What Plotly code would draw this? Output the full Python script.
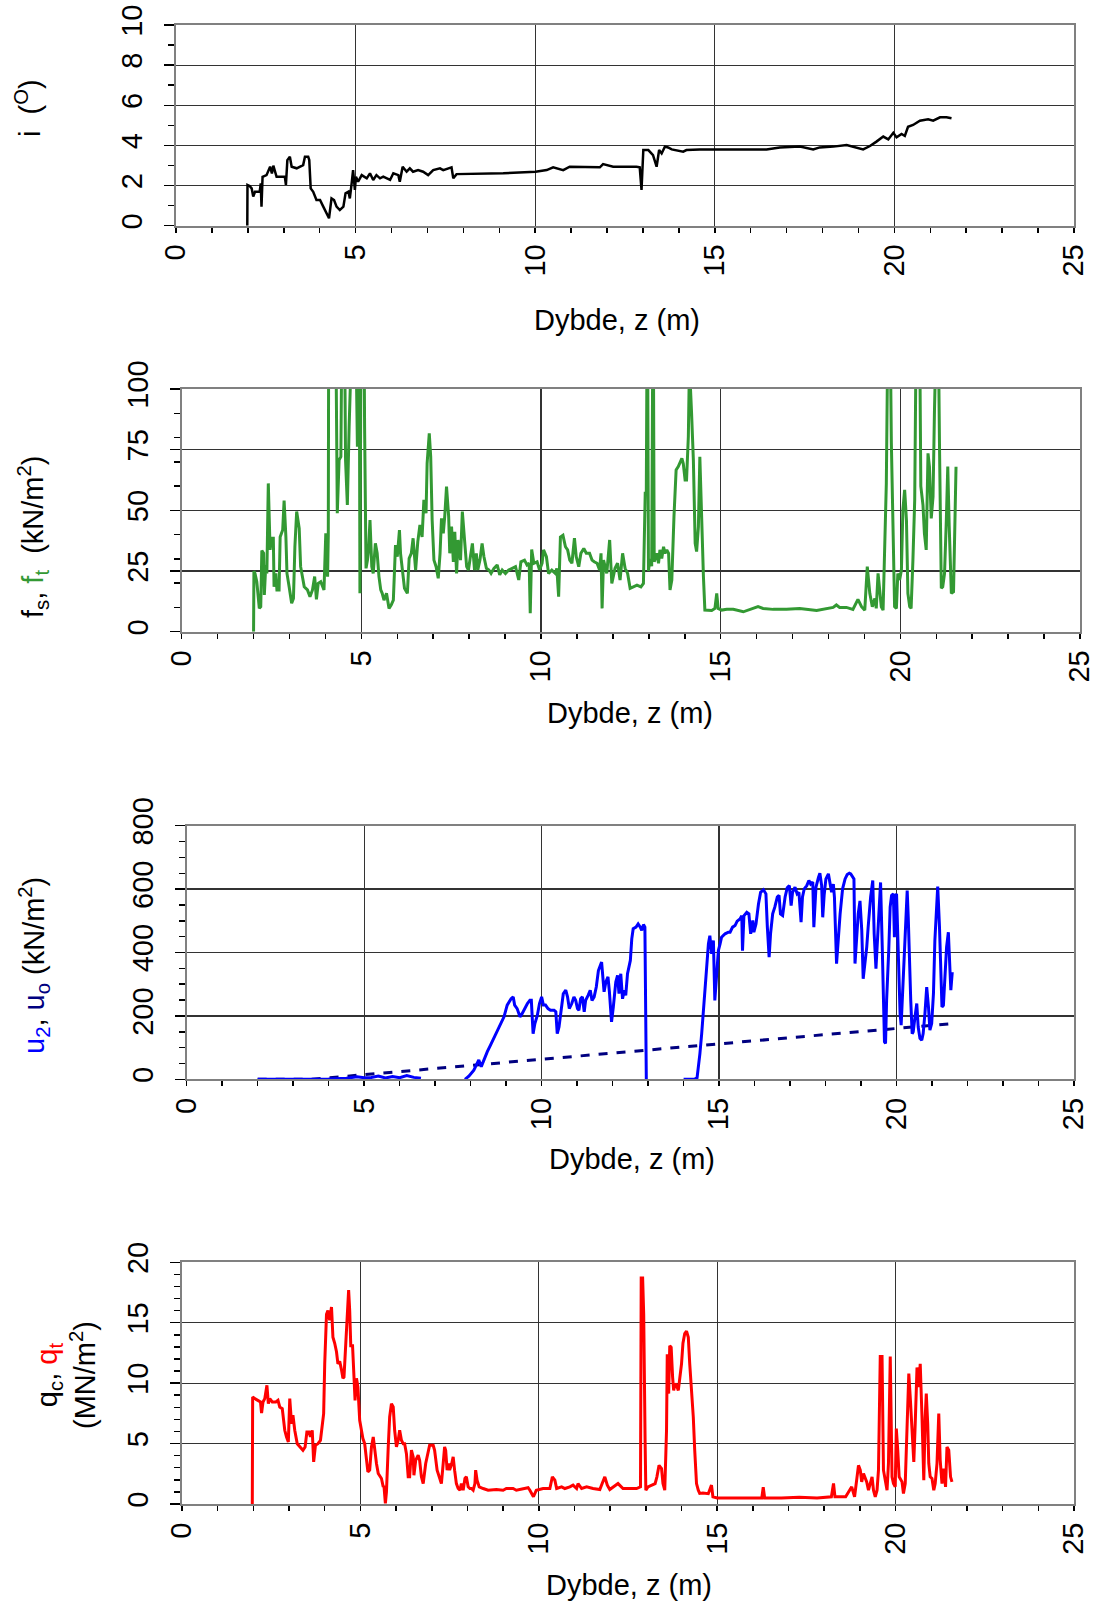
import plotly.graph_objects as go

W, H = 1093, 1602

# ---------------- data ----------------
depth_i = [1.985, 1.99, 2.05, 2.106, 2.15, 2.20, 2.26, 2.33, 2.36, 2.38, 2.41, 2.52, 2.62, 2.67, 2.71, 2.80,
           3.03, 3.06, 3.10, 3.17, 3.22, 3.36, 3.54, 3.59, 3.68, 3.71, 3.75, 3.82, 3.91, 4.01, 4.10, 4.19,
           4.26, 4.33, 4.40, 4.47, 4.56, 4.66, 4.72, 4.80, 4.84, 4.89, 4.93, 4.98, 5.01, 5.07, 5.17, 5.31,
           5.40, 5.49, 5.58, 5.68, 5.77, 5.96, 6.05, 6.19, 6.23, 6.31, 6.42, 6.51, 6.60, 6.74, 6.88, 7.02,
           7.16, 7.35, 7.44, 7.67, 7.72, 7.81, 8.5, 9.11, 10.01, 10.32, 10.50, 10.78, 10.96, 11.34, 11.80,
           11.89, 12.17, 12.82, 12.91, 12.96, 13.01, 13.15, 13.28, 13.38, 13.45, 13.52, 13.61, 13.70, 13.80,
           14.12, 14.21, 14.58, 16.44, 16.81, 17.37, 17.74, 17.92, 18.30, 18.67, 19.13, 19.32, 19.50, 19.69,
           19.83, 19.97, 20.06, 20.20, 20.29, 20.38, 20.52, 20.71, 20.94, 21.08, 21.27, 21.45, 21.59]
incl = [0.0, 2.03, 1.98, 1.86, 1.45, 1.69, 1.69, 1.69, 2.11, 0.95, 2.44, 2.52, 2.94, 2.6, 2.99, 2.44,
        2.44, 2.03, 3.27, 3.44, 2.94, 2.86, 3.02, 3.44, 3.44, 3.27, 1.86, 1.69, 1.28, 1.28, 0.95, 0.61,
        0.37, 1.36, 1.28, 0.95, 0.78, 0.95, 1.61, 1.69, 1.36, 2.11, 2.77, 1.78, 2.44, 2.19, 2.52, 2.36,
        2.61, 2.28, 2.52, 2.36, 2.44, 2.28, 2.61, 2.52, 2.19, 2.94, 2.69, 2.86, 2.69, 2.77, 2.69, 2.52,
        2.77, 2.86, 2.77, 2.91, 2.36, 2.57, 2.6, 2.61, 2.69, 2.77, 2.91, 2.77, 2.94, 2.94, 2.91,
        3.07, 2.94, 2.94, 2.91, 1.78, 3.77, 3.77, 3.52, 2.94, 3.77, 3.6, 3.94, 3.90, 3.80,
        3.69, 3.77, 3.80, 3.80, 3.90, 3.94, 3.80, 3.90, 3.94, 4.02, 3.80, 3.97, 4.19, 4.44,
        4.30, 4.63, 4.40, 4.57, 4.47, 4.93, 5.02, 5.23, 5.30, 5.23, 5.40, 5.40, 5.35]

depth_ft = [2.00, 2.01, 2.04, 2.09, 2.16, 2.20, 2.23, 2.28, 2.30, 2.34, 2.37, 2.41, 2.46, 2.50, 2.55, 2.57,
            2.62, 2.65, 2.71, 2.74, 2.81, 2.85, 2.90, 2.93, 2.99, 3.06, 3.11, 3.15, 3.20, 3.27, 3.31, 3.36,
            3.41, 3.50, 3.57, 3.64, 3.70, 3.75, 3.80, 3.87, 3.96, 4.01, 4.06, 4.08, 4.10, 4.27, 4.33, 4.38,
            4.43, 4.47, 4.52, 4.56, 4.61, 4.66, 4.70, 4.75, 4.84, 4.89, 4.94, 4.96, 5.00, 5.06, 5.09, 5.13,
            5.17, 5.20, 5.24, 5.29, 5.33, 5.39, 5.44, 5.49, 5.54, 5.58, 5.63, 5.70, 5.77, 5.83, 5.89, 5.95,
            6.00, 6.06, 6.09, 6.15, 6.20, 6.28, 6.33, 6.39, 6.44, 6.51, 6.57, 6.63, 6.69, 6.74, 6.80, 6.83,
            6.89, 6.93, 6.97, 7.02, 7.08, 7.14, 7.19, 7.23, 7.28, 7.32, 7.37, 7.43, 7.46, 7.51, 7.56, 7.60,
            7.65, 7.69, 7.76, 7.81, 7.87, 7.93, 7.98, 8.04, 8.09, 8.15, 8.20, 8.24, 8.30, 8.36, 8.41, 8.48,
            8.55, 8.61, 8.69, 8.78, 8.85, 8.92, 9.01, 9.10, 9.19, 9.29, 9.38, 9.44, 9.54, 9.61, 9.67, 9.70,
            9.74, 9.80, 9.89, 9.96, 10.03, 10.07, 10.15, 10.21, 10.30, 10.40, 10.44, 10.49, 10.54, 10.61,
            10.68, 10.74, 10.80, 10.86, 10.93, 10.98, 11.05, 11.11, 11.19, 11.26, 11.35, 11.42, 11.48, 11.56,
            11.63, 11.67, 11.70, 11.74, 11.83, 11.91, 11.97, 12.06, 12.13, 12.20, 12.27, 12.34, 12.41, 12.48,
            12.57, 12.67, 12.78, 12.85, 12.90, 12.93, 12.96, 12.99, 13.03, 13.08, 13.12, 13.15, 13.22, 13.27,
            13.31, 13.36, 13.41, 13.45, 13.50, 13.55, 13.59, 13.64, 13.70, 13.76, 13.82, 13.92, 13.96, 14.01,
            14.05, 14.10, 14.13, 14.17, 14.19, 14.24, 14.29, 14.33, 14.38, 14.42, 14.45, 14.49, 14.52, 14.56,
            14.63, 14.75, 14.84, 14.89, 14.93, 15.03, 15.17, 15.35, 15.63, 15.81, 16.04, 16.18, 16.46, 16.83,
            17.20, 17.67, 17.94, 18.13, 18.22, 18.31, 18.50, 18.68, 18.82, 18.92, 19.01, 19.08, 19.15, 19.22,
            19.29, 19.33, 19.38, 19.42, 19.47, 19.52, 19.56, 19.61, 19.67, 19.70, 19.75, 19.80, 19.84, 19.89,
            19.93, 19.98, 20.03, 20.07, 20.12, 20.17, 20.21, 20.26, 20.30, 20.35, 20.40, 20.45, 20.53, 20.57,
            20.63, 20.67, 20.72, 20.77, 20.81, 20.86, 20.91, 20.95, 21.00, 21.04, 21.09, 21.14, 21.18, 21.23,
            21.28, 21.32, 21.36, 21.42, 21.48, 21.52, 21.55]
ft = [0, 25, 24, 20.6, 9.6, 10.3, 33.4, 32.3, 15.1, 27.5, 24, 61.1, 33.7, 38.5, 38.5, 18.5,
      24, 17.2, 17.2, 39, 41.9, 54, 39, 24, 18.5, 11.7, 13.7, 35, 49.5, 42.6, 26.8, 22.7,
      18.5, 17.2, 14.4, 17.2, 22.7, 13.3, 19.9, 20.6, 17.2, 40.5, 22.7, 40, 200, 160, 48.8, 70.7,
      72.1, 150, 150, 70.7, 52.2, 84.5, 110, 130, 130, 76.2, 140, 15.8, 160, 160, 84.5, 26.1,
      29.5, 33.7, 46, 26.8, 24, 36.4, 32.3, 22.7, 17.2, 15.8, 13, 15.8, 9.6, 11, 13, 35.7,
      30.9, 41.9, 32.3, 24, 17.9, 15.8, 30.2, 32.3, 38.5, 25.4, 37, 44, 39, 54.3, 48.8, 69.4,
      81.7, 72.1, 46, 29.5, 26.8, 22, 32.3, 46.7, 40.5, 47.4, 59.8, 47.4, 32.3, 43.3, 28.8, 41.2,
      24, 37.8, 29.5, 49.5, 37.8, 26.8, 25.4, 32.3, 36.4, 25.4, 32.3, 25.4, 29.5, 36.4, 31, 26.1,
      25.4, 24, 26.1, 27.5, 23.4, 25.4, 24, 25.4, 26.1, 26.8, 21.3, 28.8, 29.5, 27.5, 28.2, 7.6,
      33.9, 28.2, 28.8, 25.4, 28.2, 33.7, 30.9, 24, 25.4, 24, 26.1, 14.4, 39, 39.7,
      35, 33.7, 29.5, 28.2, 38.5, 30.9, 26.8, 32.3, 34.3, 32.3, 32.3, 29.5, 28.8, 28.2,
      25.4, 32.3, 9.6, 29.5, 24, 37.8, 19.9, 26.1, 28.2, 21.3, 32.3, 26.1, 24, 17.9,
      18.5, 19.2, 18.5, 19.9, 57, 57, 150, 25, 30, 27, 150, 28.8, 32.3, 28.2,
      33.7, 30.2, 35, 32.3, 33.7, 32.3, 17.2, 21.3, 47.4, 66.6, 68, 71.4, 69.2, 62.5,
      62.5, 80.4, 110, 100, 90, 70.7, 36.4, 33, 43.3, 72.1, 57, 32.3, 22.7, 8.9,
      8.9, 8.7, 9.6, 15.8, 9.6, 8.9, 9.2, 9.2, 8.2, 9.2, 10.3, 9.6, 9.2, 9.2,
      9.6, 8.7, 9.6, 10.0, 11.0, 10.0, 10.0, 9.2, 13.3, 10.3, 8.9, 26.8, 15.8, 10.3,
      13.7, 9.6, 24, 18.5, 10.3, 8.9, 32.3, 61.1, 150, 150, 77.6, 29.5, 10.3, 9.6,
      24, 21.3, 25.4, 50.1, 58.4, 46, 15.8, 10.3, 9.6, 29.5, 54.3, 140, 140, 60,
      52.2, 40.5, 33.7, 73.5, 68, 46.7, 55.6, 91.3, 150, 150, 76.2, 17.9, 18.5, 24,
      46, 68, 43.3, 15.8, 16.5, 46, 68]

depth_u2 = [2.0, 2.5, 3.0, 3.5, 4.0, 4.5, 4.8, 5.0, 5.2, 5.4, 5.6, 5.8, 6.0, 6.2, 6.4, 6.6, 6.65,
            7.84, 7.95, 8.09, 8.23, 8.30, 8.37, 8.47, 8.56, 8.65, 8.75, 8.84, 8.94, 9.03, 9.08, 9.14, 9.20,
            9.24, 9.31, 9.39, 9.45, 9.52, 9.60, 9.67, 9.71, 9.76, 9.81, 9.88, 9.94, 10.00, 10.05, 10.11,
            10.18, 10.25, 10.35, 10.40, 10.44, 10.49, 10.56, 10.61, 10.68, 10.73, 10.78, 10.85, 10.91,
            10.96, 11.01, 11.05, 11.10, 11.15, 11.20, 11.24, 11.31, 11.37, 11.42, 11.48, 11.54, 11.60,
            11.69, 11.73, 11.76, 11.81, 11.87, 11.91, 11.97, 12.02, 12.09, 12.14, 12.18, 12.23, 12.28,
            12.33, 12.37, 12.42, 12.50, 12.54, 12.58, 12.66, 12.72, 12.78, 12.82, 12.87, 12.91, 12.95, 12.96,
            14.0, 14.3, 14.38, 14.41, 14.46, 14.51, 14.56, 14.63, 14.70, 14.74, 14.79, 14.84, 14.88, 14.93,
            14.98, 15.03, 15.07, 15.17, 15.26, 15.31, 15.38, 15.45, 15.51, 15.59, 15.64, 15.66, 15.70,
            15.78, 15.84, 15.89, 15.95, 15.98, 16.04, 16.11, 16.17, 16.25, 16.32, 16.36, 16.41, 16.45,
            16.51, 16.57, 16.64, 16.69, 16.73, 16.79, 16.86, 16.92, 16.98, 17.03, 17.07, 17.14, 17.20,
            17.25, 17.31, 17.35, 17.40, 17.47, 17.53, 17.58, 17.64, 17.67, 17.73, 17.80, 17.84, 17.89,
            17.92, 17.96, 18.01, 18.08, 18.13, 18.17, 18.22, 18.25, 18.31, 18.36, 18.41, 18.48, 18.55,
            18.61, 18.67, 18.71, 18.75, 18.80, 18.83, 18.88, 18.92, 18.97, 19.02, 19.06, 19.11, 19.16,
            19.20, 19.27, 19.33, 19.37, 19.42, 19.47, 19.51, 19.55, 19.60, 19.63, 19.66, 19.69, 19.72,
            19.78, 19.82, 19.86, 19.91, 19.94, 19.97, 20.00, 20.05, 20.10, 20.13, 20.16, 20.22, 20.27,
            20.30, 20.33, 20.36, 20.40, 20.44, 20.47, 20.52, 20.57, 20.61, 20.66, 20.71, 20.75, 20.80,
            20.85, 20.90, 20.94, 20.99, 21.04, 21.08, 21.13, 21.16, 21.21, 21.24, 21.28, 21.32, 21.37,
            21.41, 21.46, 21.51, 21.53, 21.57]
u2 = [0, 0, 0, 0, 1, 3, 8, 5, 6, 10, 4, 9, 5, 12, 6, 3, None,
      0, 10, 29, 61, 40, 61, 87, 108, 129, 155, 176, 197, 234, 244, 254, 260,
      234, 223, 197, 207, 223, 239, 249, 249, 144, 176, 202, 239, 260, 234, 234,
      223, 218, 218, 213, 144, 165, 228, 270, 281, 260, 223, 239, 260,
      249, 223, 218, 254, 260, 213, 249, 265, 281, 249, 260, 291, 343,
      370, 312, 276, 307, 323, 276, 181, 228, 307, 328, 270, 333, 254,
      281, 265, 333, 375, 443, 475, 480, 490, 480, 470, 488, 480, 0, None,
      0, 0, 5, 29, 81, 144, 228, 323, 428, 453, 396, 438, 249, 333,
      406, 428, 448, 459, 464, 464, 480, 485, 499, 506, 516, 406, 516,
      527, 522, 459, 501, 464, 490, 553, 590, 598, 585, 480, 385, 459,
      522, 543, 575, 580, 522, 517, 575, 604, 611, 548, 590, 606, 585,
      590, 496, 575, 601, 611, 627, 616, 622, 480, 606, 637, 650, 611,
      511, 580, 632, 648, 616, 590, 616, 575, 365, 454, 522, 601, 632,
      646, 650, 648, 640, 632, 365, 459, 522, 563, 470, 317, 365, 417,
      480, 575, 627, 459, 349, 459, 575, 621, 406, 197, 118, 113, 249,
      406, 543, 580, 585, 448, 575, 585, 354, 207, 171, 249, 406, 511,
      595, 511, 385, 249, 144, 150, 197, 239, 165, 129, 123, 144, 207,
      291, 228, 155, 176, 270, 438, 564, 608, 480, 333, 228, 233, 333,
      417, 464, 291, 281, 338]

depth_u0 = [2.0, 3.5, 21.6]
u0 = [0, 0, 176]

depth_q = [1.97, 1.98, 2.04, 2.13, 2.20, 2.23, 2.27, 2.32, 2.38, 2.42, 2.46, 2.53, 2.63, 2.69, 2.74, 2.81,
           2.88, 2.93, 2.98, 3.02, 3.07, 3.11, 3.16, 3.23, 3.32, 3.39, 3.45, 3.50, 3.56, 3.60, 3.65, 3.69,
           3.74, 3.81, 3.88, 3.93, 3.97, 4.00, 4.05, 4.09, 4.14, 4.19, 4.23, 4.28, 4.33, 4.37, 4.42, 4.47,
           4.51, 4.54, 4.59, 4.63, 4.67, 4.70, 4.73, 4.78, 4.81, 4.85, 4.89, 4.93, 4.98, 5.03, 5.07, 5.12,
           5.17, 5.21, 5.26, 5.31, 5.36, 5.40, 5.45, 5.50, 5.54, 5.59, 5.64, 5.66, 5.70, 5.73, 5.78, 5.82,
           5.87, 5.92, 5.96, 6.01, 6.06, 6.10, 6.15, 6.20, 6.24, 6.29, 6.34, 6.38, 6.43, 6.48, 6.50, 6.55,
           6.62, 6.66, 6.71, 6.76, 6.83, 6.90, 6.94, 7.04, 7.08, 7.15, 7.22, 7.27, 7.32, 7.36, 7.39, 7.43,
           7.47, 7.50, 7.56, 7.60, 7.64, 7.69, 7.74, 7.79, 7.83, 7.88, 7.93, 7.97, 8.02, 8.07, 8.11, 8.16,
           8.21, 8.23, 8.27, 8.33, 8.44, 8.58, 8.81, 9.00, 9.09, 9.28, 9.37, 9.56, 9.70, 9.75, 9.85, 9.93,
           10.12, 10.31, 10.38, 10.45, 10.50, 10.64, 10.73, 10.87, 10.96, 11.06, 11.10, 11.20, 11.34, 11.52,
           11.71, 11.85, 11.92, 11.99, 12.08, 12.22, 12.36, 12.55, 12.74, 12.85, 12.87, 12.91, 12.94, 12.98,
           13.00, 13.06, 13.16, 13.26, 13.31, 13.37, 13.44, 13.48, 13.53, 13.58, 13.60, 13.64, 13.67, 13.71,
           13.75, 13.78, 13.82, 13.86, 13.91, 13.95, 14.00, 14.04, 14.09, 14.14, 14.19, 14.23, 14.28, 14.33,
           14.37, 14.42, 14.47, 14.51, 14.60, 14.75, 14.84, 14.88, 15.0, 15.5, 16.0, 16.25, 16.29, 16.33,
           16.8, 17.3, 17.8, 18.2, 18.26, 18.3, 18.6, 18.77, 18.85, 18.96, 19.01, 19.05, 19.10, 19.15,
           19.19, 19.24, 19.29, 19.34, 19.38, 19.43, 19.48, 19.52, 19.57, 19.62, 19.66, 19.71, 19.76, 19.80,
           19.85, 19.90, 19.94, 19.99, 20.02, 20.06, 20.10, 20.18, 20.22, 20.27, 20.32, 20.37, 20.41, 20.46,
           20.51, 20.55, 20.60, 20.65, 20.69, 20.74, 20.79, 20.83, 20.86, 20.90, 20.93, 20.97, 21.02, 21.07,
           21.11, 21.16, 21.21, 21.25, 21.30, 21.35, 21.40, 21.44, 21.49, 21.54, 21.58]
qt = [0, 8.86, 8.72, 8.53, 8.44, 7.53, 8.44, 8.72, 9.82, 8.3, 8.72, 8.44, 8.44, 8.58, 8.03, 7.89,
      6.1, 5.55, 5.14, 8.72, 6.65, 7.34, 6.1, 4.99, 4.72, 4.45, 4.72, 5.96, 5.96, 5.55, 6.1, 3.48,
      4.86, 4.99, 5.27, 6.65, 7.48, 11.6, 15.7, 16.0, 15.2, 16.3, 13.8, 13.3, 12.6, 11.6, 11.8, 11.1,
      10.4, 10.5, 13.0, 14.9, 17.7, 16.0, 13.1, 13.1, 10.5, 8.58, 10.4, 9.68, 6.93, 6.1, 5.41, 4.99,
      3.62, 2.66, 2.8, 4.72, 5.55, 4.45, 3.35, 2.52, 2.38, 2.11, 1.42, 1.5, 0.05, 1.0, 4.72, 7.2,
      8.3, 8.03, 6.1, 4.72, 5.27, 6.1, 5.27, 4.99, 4.99, 4.17, 2.25, 2.25, 4.45, 3.9, 2.38, 3.62,
      4.04, 3.62, 2.25, 1.69, 3.35, 4.31, 4.86, 4.86, 4.45, 2.8, 2.11, 1.69, 3.35, 4.72, 4.45, 2.8,
      3.35, 2.8, 3.35, 3.9, 2.8, 1.69, 1.28, 1.14, 1.69, 1.14, 2.11, 2.25, 1.42, 1.28, 1.28, 1.14,
      1.69, 2.8, 1.97, 1.42, 1.28, 1.14, 1.2, 1.14, 1.28, 1.28, 1.14, 1.28, 1.35, 1.14, 0.6, 1.14,
      1.28, 1.28, 2.25, 1.97, 1.28, 1.42, 1.28, 1.42, 1.56, 1.28, 1.69, 1.28, 1.42, 1.28,
      1.2, 2.25, 1.56, 1.2, 1.42, 1.69, 1.28, 1.28, 1.28, 1.42, 18.7, 18.7, 15.7, 5.0,
      1.14, 1.42, 1.56, 1.69, 2.25, 3.2, 2.93, 1.69, 1.14, 6.1, 12.4, 9.13, 13.1, 12.96,
      10.5, 9.4, 9.96, 9.82, 9.4, 10.2, 11.6, 13.3, 14.1, 14.3, 13.8, 11.6, 9.7, 7.2,
      4.45, 1.69, 1.14, 0.87, 0.9, 0.85, 1.56, 0.6, 0.5, 0.5, 0.55, 0.5, 1.4, 0.5,
      0.5, 0.55, 0.5, 0.6, 1.7, 0.6, 0.6, 1.42, 0.6, 3.2, 2.8, 1.83, 2.52, 2.11,
      1.83, 1.14, 1.69, 2.25, 1.14, 0.6, 1.14, 2.8, 12.2, 12.2, 2.8, 2.11, 1.14, 3.35,
      12.2, 2.25, 1.69, 1.42, 6.24, 4.45, 2.25, 1.83, 0.87, 1.69, 7.2, 10.8, 8.85, 6.1,
      3.48, 6.65, 11.3, 9.68, 11.6, 7.2, 1.97, 7.2, 9.13, 6.65, 3.35, 2.25, 2.11, 1.14,
      1.69, 3.35, 7.48, 3.62, 1.69, 2.93, 1.42, 4.72, 4.45, 2.25, 1.83]

x_ticks = [0, 5, 10, 15, 20, 25]
x_title = "Dybde, z (m)"

# ---------------- layout helpers ----------------
FONT = "Liberation Sans, Arial, sans-serif"
FS = 29


def px_x(v):
    return v / W


def px_y(v):
    return 1 - v / H


panels = [
    dict(xd=(176, 1074), yd=(25, 225.7), yr=[0, 10], dt=2, mdt=1),
    dict(xd=(181.7, 1080), yd=(389, 631.7), yr=[0, 100], dt=25, mdt=10),
    dict(xd=(186.7, 1074), yd=(825.7, 1079.3), yr=[0, 800], dt=200, mdt=50),
    dict(xd=(182, 1074), yd=(1262.3, 1504), yr=[0, 20], dt=5, mdt=1),
]

fig = go.Figure()

traces = [
    (depth_i, incl, dict(color="black", width=2.5), 1),
    (depth_ft, ft, dict(color="#339933", width=3), 2),
    (depth_u0, u0, dict(color="#000080", width=3, dash="dash"), 3),
    (depth_u2, u2, dict(color="#0000ff", width=3), 3),
    (depth_q, qt, dict(color="#ff0000", width=3), 4),
]
for xs, ys, ln, k in traces:
    fig.add_trace(go.Scatter(x=xs, y=ys, mode="lines", line=ln,
                             xaxis="x" if k == 1 else f"x{k}",
                             yaxis="y" if k == 1 else f"y{k}",
                             showlegend=False, hoverinfo="skip", connectgaps=False))

layout = dict(width=W, height=H, margin=dict(l=0, r=0, t=0, b=0, autoexpand=False),
              paper_bgcolor="white", plot_bgcolor="white",
              font=dict(family=FONT, size=FS, color="black"))

for k, p in enumerate(panels, start=1):
    xk = "xaxis" if k == 1 else f"xaxis{k}"
    yk = "yaxis" if k == 1 else f"yaxis{k}"
    xa = "x" if k == 1 else f"x{k}"
    ya = "y" if k == 1 else f"y{k}"
    layout[xk] = dict(domain=[px_x(p["xd"][0]), px_x(p["xd"][1])], range=[0, 25],
                      tickvals=x_ticks, ticktext=[str(t) for t in x_ticks],
                      tickangle=-90, ticks="outside", ticklen=5, tickwidth=1.5, tickcolor="black",
                      minor=dict(dtick=1, tick0=0, ticks="outside", ticklen=5, tickwidth=1.5,
                                 tickcolor="black", showgrid=False),
                      showgrid=True, gridcolor="#333333", gridwidth=1.2,
                      showline=True, linecolor="#808080", linewidth=2, mirror=True,
                      zeroline=False, anchor=ya, tickfont=dict(size=FS, family=FONT),
                      ticklabeloverflow="allow",
                      automargin=False, fixedrange=True)
    layout[yk] = dict(domain=[px_y(p["yd"][1]), px_y(p["yd"][0])], range=p["yr"],
                      dtick=p["dt"], tick0=0, tickangle=-90,
                      ticks="outside", ticklen=10, tickwidth=1.5, tickcolor="black",
                      minor=dict(dtick=p["mdt"], tick0=0, ticks="outside", ticklen=6, tickwidth=1.5,
                                 tickcolor="black", showgrid=False),
                      showgrid=True, gridcolor="#333333", gridwidth=1.2,
                      showline=True, linecolor="#808080", linewidth=2, mirror=True,
                      zeroline=False, anchor=xa, tickfont=dict(size=FS, family=FONT),
                      ticklabelstandoff=10, ticklabeloverflow="allow",
                      automargin=False, fixedrange=True)

fig.update_layout(**layout)

# x-axis titles (the last one sits on the bottom edge of the page)
x_title_pos = [(617, 320), (630, 713), (632, 1159)]
for (cx, cy) in x_title_pos:
    fig.add_annotation(text=x_title, x=px_x(cx), y=px_y(cy), xref="paper", yref="paper",
                       xanchor="center", yanchor="middle", showarrow=False,
                       font=dict(size=FS, family=FONT, color="black"))
fig.add_annotation(text=x_title, x=px_x(629), y=0, xref="paper", yref="paper",
                   xanchor="center", yanchor="bottom", showarrow=False, borderpad=0,
                   font=dict(size=FS, family=FONT, color="black"))

# y-axis titles
y_titles = [
    ("i  (<sup>O</sup>)", 28, 108),
    ("f<sub>s</sub>, <span style='color:#339933'>f<sub>t</sub></span>  (kN/m<sup>2</sup>)", 33, 537),
    ("<span style='color:#0000ff'>u<sub>2</sub></span>, <span style='color:#000080'>u<sub>o</sub></span> (kN/m<sup>2</sup>)", 34, 966),
    ("q<sub>c</sub>, <span style='color:#ff0000'>q<sub>t</sub></span><br>(MN/m<sup>2</sup>)", 66, 1375),
]
for txt, cx, cy in y_titles:
    fig.add_annotation(text=txt, x=px_x(cx), y=px_y(cy), xref="paper", yref="paper",
                       xanchor="center", yanchor="middle", showarrow=False, textangle=-90,
                       font=dict(size=FS, family=FONT, color="black"))

# remove the default 8px page margin so the figure fills the window exactly
fig.write_html("out.html",
               config={"displayModeBar": False, "staticPlot": True},
               post_script="document.body.style.margin='0';document.body.style.overflow='hidden';")
